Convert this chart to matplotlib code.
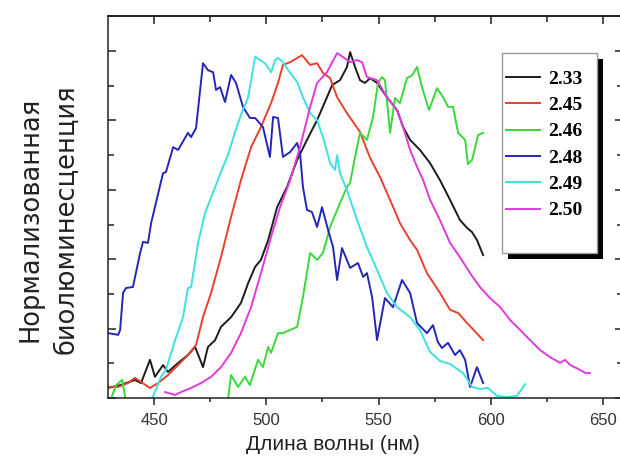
import matplotlib
matplotlib.use("Agg")
import matplotlib.pyplot as plt
from matplotlib.patches import Rectangle
from matplotlib.ticker import MultipleLocator

# normalised bioluminescence spectra, one per pH value
labels = ["2.33", "2.45", "2.46", "2.48", "2.49", "2.50"]
colors = ["#1c1c1c", "#e8402e", "#3ad83a", "#2626b4", "#3ee0e0", "#df3ade"]

wl_233 = [429.5, 434.9, 441.5, 444.2, 448.2, 450.4, 454.0, 456.2, 460.7, 465.1, 468.3, 471.8,
          474.0, 477.2, 479.8, 484.3, 488.7, 491.9, 495.0, 497.6, 500.8, 504.8, 509.2, 513.7,
          518.1, 522.6, 527.0, 529.3, 532.8, 535.9, 537.3, 539.5, 541.7, 543.9, 546.2, 549.3,
          553.7, 558.2, 560.9, 564.0, 568.4, 572.9, 577.3, 581.8, 586.2, 589.4, 591.6, 593.8, 596.5]
int_233 = [0.029, 0.037, 0.052, 0.043, 0.110, 0.061, 0.095, 0.075, 0.101, 0.124, 0.147, 0.089,
           0.147, 0.167, 0.205, 0.233, 0.274, 0.331, 0.378, 0.398, 0.455, 0.550, 0.608, 0.686,
           0.744, 0.801, 0.867, 0.902, 0.916, 0.954, 0.997, 0.954, 0.916, 0.908, 0.922, 0.908,
           0.867, 0.830, 0.781, 0.744, 0.715, 0.677, 0.628, 0.571, 0.513, 0.490, 0.478, 0.455, 0.412]

wl_245 = [429.5, 434.0, 438.4, 441.5, 444.2, 448.2, 451.8, 456.2, 460.7, 465.1, 468.7, 471.8,
          475.4, 479.8, 484.3, 488.7, 493.2, 497.6, 502.1, 505.2, 507.4, 510.6, 515.9, 519.5,
          522.6, 525.2, 528.4, 531.5, 535.9, 541.7, 546.2, 550.6, 555.1, 559.5, 564.0, 567.1,
          571.5, 577.3, 581.8, 585.4, 589.4, 596.5]
int_245 = [0.032, 0.032, 0.043, 0.058, 0.046, 0.029, 0.043, 0.066, 0.095, 0.124, 0.153, 0.233,
           0.303, 0.406, 0.522, 0.628, 0.723, 0.781, 0.850, 0.908, 0.960, 0.968, 0.988, 0.960,
           0.965, 0.937, 0.922, 0.867, 0.821, 0.767, 0.692, 0.637, 0.571, 0.504, 0.455, 0.427,
           0.360, 0.303, 0.254, 0.245, 0.216, 0.167]

wl_246 = [430.4, 433.1, 435.8, 437.5, 445.0, 460.0, 475.0, 482.9, 484.3, 487.4, 490.5, 492.7,
          496.3, 498.5, 500.8, 502.1, 505.2, 507.4, 510.6, 513.7, 516.3, 519.5, 522.6, 525.2,
          528.4, 531.5, 532.8, 535.9, 537.3, 539.5, 541.7, 544.8, 547.5, 549.7, 551.5, 552.8,
          555.1, 557.3, 559.5, 562.6, 564.9, 567.1, 569.3, 572.4, 576.0, 578.7, 580.9, 583.1,
          585.4, 588.5, 589.8, 591.6, 594.3, 596.5]
int_246 = [-0.010, 0.037, 0.052, -0.010, -0.060, -0.080, -0.060, -0.006, 0.066, 0.032, 0.061, 0.037,
           0.110, 0.089, 0.147, 0.130, 0.187, 0.187, 0.196, 0.205, 0.291, 0.418, 0.398, 0.418,
           0.493, 0.542, 0.562, 0.608, 0.620, 0.695, 0.764, 0.744, 0.810, 0.908, 0.925, 0.916,
           0.764, 0.865, 0.850, 0.922, 0.930, 0.954, 0.896, 0.830, 0.893, 0.867, 0.839, 0.839,
           0.764, 0.744, 0.674, 0.686, 0.758, 0.764]

wl_248 = [429.5, 434.0, 434.9, 436.2, 437.5, 440.6, 443.8, 445.1, 447.3, 448.7, 454.0, 455.3,
          458.5, 460.7, 465.1, 466.5, 468.7, 471.8, 474.0, 476.3, 477.6, 479.4, 481.6, 484.3,
          486.5, 489.6, 492.7, 495.0, 498.5, 501.6, 503.0, 505.2, 507.4, 510.6, 513.7, 515.0,
          516.3, 518.1, 520.3, 522.6, 524.8, 527.5, 529.7, 531.5, 533.7, 537.3, 540.8, 543.1,
          544.8, 547.1, 549.3, 552.8, 556.4, 560.4, 564.0, 567.1, 571.5, 574.2, 576.4, 578.2,
          580.9, 584.0, 586.2, 588.5, 590.7, 593.8, 596.5]
int_248 = [0.187, 0.182, 0.196, 0.303, 0.317, 0.320, 0.418, 0.450, 0.447, 0.504, 0.648, 0.651,
           0.723, 0.715, 0.764, 0.752, 0.778, 0.965, 0.945, 0.939, 0.888, 0.896, 0.853, 0.931,
           0.908, 0.839, 0.807, 0.807, 0.781, 0.695, 0.810, 0.807, 0.695, 0.709, 0.735, 0.706,
           0.608, 0.542, 0.536, 0.493, 0.550, 0.484, 0.435, 0.340, 0.432, 0.375, 0.389, 0.349,
           0.360, 0.291, 0.167, 0.288, 0.262, 0.340, 0.303, 0.216, 0.187, 0.210, 0.161, 0.144,
           0.159, 0.124, 0.138, 0.110, 0.032, 0.089, 0.043]

wl_249 = [448.0, 453.1, 455.3, 459.4, 462.9, 465.1, 466.5, 469.6, 472.7, 477.2, 480.7, 482.9,
          486.1, 488.7, 491.9, 495.0, 497.2, 499.4, 502.1, 503.9, 505.2, 507.4, 510.6, 513.7,
          516.3, 519.5, 522.6, 525.2, 528.4, 530.6, 531.5, 532.8, 535.9, 540.4, 544.8, 549.3,
          553.7, 558.2, 564.0, 568.4, 572.9, 577.3, 581.8, 587.6, 591.6, 595.1, 598.7, 602.7,
          607.1, 611.6, 613.4, 615.2]
int_249 = [-0.020, 0.061, 0.081, 0.167, 0.233, 0.317, 0.320, 0.447, 0.533, 0.608, 0.666, 0.700,
           0.767, 0.816, 0.867, 0.983, 0.974, 0.965, 0.939, 0.974, 0.980, 0.968, 0.937, 0.911,
           0.867, 0.821, 0.801, 0.752, 0.677, 0.657, 0.700, 0.648, 0.599, 0.513, 0.435, 0.369,
           0.303, 0.262, 0.233, 0.196, 0.133, 0.107, 0.098, 0.072, 0.032, 0.026, 0.029, 0.006,
           0.003, 0.006, 0.023, 0.040]

wl_250 = [454.9, 459.4, 462.0, 466.5, 470.9, 475.4, 479.8, 484.3, 488.7, 493.2, 497.6, 502.1,
          506.1, 510.6, 515.0, 519.5, 522.6, 527.0, 531.5, 534.1, 537.3, 540.4, 542.6, 544.8,
          549.3, 553.7, 558.2, 560.9, 564.0, 567.1, 569.8, 572.9, 577.3, 581.8, 586.2, 590.7,
          595.1, 599.6, 604.1, 608.5, 613.0, 617.4, 621.9, 626.3, 630.8, 633.0, 635.3, 639.7,
          642.0, 644.1]
int_250 = [0.017, 0.009, 0.017, 0.029, 0.043, 0.061, 0.089, 0.130, 0.187, 0.262, 0.360, 0.464,
           0.550, 0.628, 0.723, 0.839, 0.908, 0.939, 0.994, 0.983, 0.968, 0.974, 0.968, 0.925,
           0.916, 0.867, 0.830, 0.781, 0.715, 0.666, 0.628, 0.571, 0.513, 0.447, 0.406, 0.360,
           0.320, 0.288, 0.262, 0.225, 0.196, 0.167, 0.138, 0.118, 0.101, 0.110, 0.095, 0.081,
           0.072, 0.072]

wavelengths = [wl_233, wl_245, wl_246, wl_248, wl_249, wl_250]
intensities = [int_233, int_245, int_246, int_248, int_249, int_250]

x_ticks = [450, 500, 550, 600, 650]

plt.rcParams['font.family'] = ['Liberation Sans', 'DejaVu Sans']

fig = plt.figure(figsize=(6.2, 4.68), dpi=100)
ax = fig.add_axes([108 / 620, 1 - 398 / 468, 515 / 620, 382 / 468])

for wl, inten, c, lab in zip(wavelengths, intensities, colors, labels):
    ax.plot(wl, inten, color=c, lw=1.4, label=lab, solid_joinstyle='round')

ax.set_xlim(429.5, 658.8)
ax.set_ylim(0, 1.101)
ax.set_xticks(x_ticks)
ax.set_xticklabels([str(t) for t in x_ticks])
ax.xaxis.set_minor_locator(MultipleLocator(25))
ax.yaxis.set_major_locator(MultipleLocator(0.2))
ax.yaxis.set_minor_locator(MultipleLocator(0.1))

for sp in ax.spines.values():
    sp.set_linewidth(1.1)
    sp.set_color('#222222')

ax.tick_params(axis='x', which='both', direction='out', bottom=True, top=False,
               color='#222222', labelsize=12, labelcolor='#333333', pad=6)
ax.tick_params(axis='x', which='major', length=5, width=1.1)
ax.tick_params(axis='x', which='minor', length=3, width=1.1)
ax.tick_params(axis='y', which='both', direction='in', left=True, right=True,
               labelleft=False, color='#222222')
ax.tick_params(axis='y', which='major', length=6, width=1.1)
ax.tick_params(axis='y', which='minor', length=4, width=1.1)

# inward ticks along the top edge
top = ax.secondary_xaxis('top')
top.set_xticks(x_ticks)
top.xaxis.set_minor_locator(MultipleLocator(25))
top.tick_params(axis='x', which='both', direction='in', labeltop=False, color='#222222')
top.tick_params(axis='x', which='major', length=6, width=1.1)
top.tick_params(axis='x', which='minor', length=4, width=1.1)
top.spines['top'].set_linewidth(1.1)

# legend frame with a solid black drop shadow
bx0, bx1 = (502 - 108) / 515, (597 - 108) / 515
by0, by1 = (398 - 253) / 382, (398 - 53) / 382
ax.add_patch(Rectangle((bx0 + 6 / 515, by0 - 6 / 382), bx1 - bx0, by1 - by0,
                       transform=ax.transAxes, facecolor='black', edgecolor='none',
                       zorder=5, clip_on=False))
ax.add_patch(Rectangle((bx0, by0), bx1 - bx0, by1 - by0, transform=ax.transAxes,
                       facecolor='white', edgecolor='#9a9a9a', lw=1.0, zorder=6,
                       clip_on=False))
leg = ax.legend(loc='upper left', bbox_to_anchor=((506 - 108) / 515, (398 - 70) / 382),
                frameon=False, borderaxespad=0, borderpad=0, handlelength=1.75,
                handletextpad=0.4, labelspacing=0.45,
                prop={'family': 'Liberation Serif', 'weight': 'bold', 'size': 14})
leg.set_zorder(7)

fig.text(333 / 620, 1 - 444 / 468, 'Длина волны (нм)', ha='center', va='center',
         fontsize=15, color='#222222')
fig.text(31 / 620, 1 - 219 / 468, 'Нормализованная', ha='center', va='center',
         rotation=90, fontsize=18.5, family='DejaVu Sans', color='#222222')
fig.text(66 / 620, 1 - 219 / 468, 'биолюминесценция', ha='center', va='center',
         rotation=90, fontsize=18.5, family='DejaVu Sans', color='#222222')

fig.savefig('out.png', dpi=100)
